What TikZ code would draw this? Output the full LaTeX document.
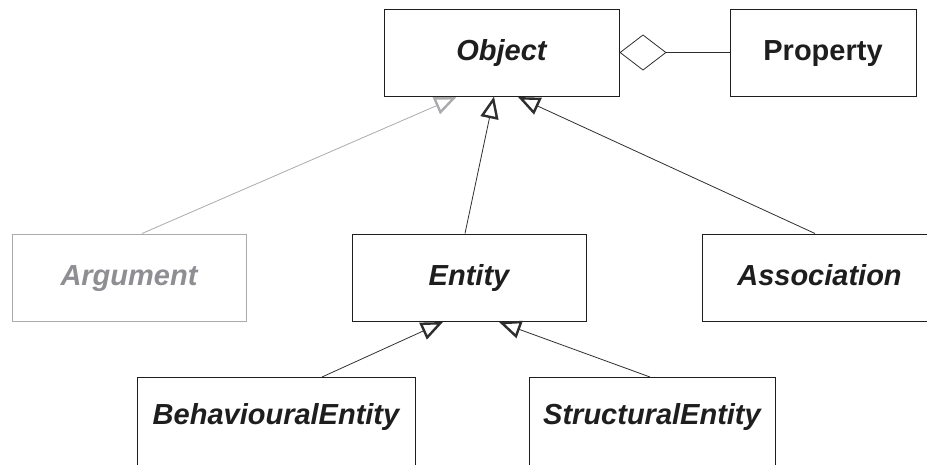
\documentclass[tikz,border=0pt]{standalone}
\usepackage{fontspec}
\setmainfont{Liberation Sans}
\usetikzlibrary{arrows.meta,calc}
\definecolor{ink}{HTML}{1E1E1E}
\definecolor{wire}{HTML}{2E2E2E}
\definecolor{faded}{HTML}{ABABAD}
\definecolor{fadedtext}{HTML}{8E8E93}
\begin{document}
\begin{tikzpicture}[x=1pt,y=-1pt,
  cls/.style={rectangle, draw=ink, line width=1pt, fill=white, inner sep=0pt,
    minimum height=87pt, text=ink, text height=21pt, text depth=6pt,
    font=\fontsize{29}{34}\selectfont\bfseries\itshape},
  plain/.style={font=\fontsize{29}{34}\selectfont\bfseries},
  ghost/.style={draw=faded, text=fadedtext},
  lower/.style={minimum height=92pt, text depth=19pt},
  gen/.style={draw=wire, line width=0.8pt,
    -{Triangle[fill=white, length=22pt, width=18pt, line width=2.4pt]}},
  genghost/.style={gen, draw=faded},
  agg/.style={draw=wire, line width=0.8pt,
    -{Diamond[fill=white, length=47pt, width=36pt, line width=0.8pt]}}
]
\useasboundingbox (0,0) rectangle (927,464);

% classes
\node[cls, minimum width=235pt] (obj) at (501.5,52.5) {Object};
\node[cls, plain, minimum width=186pt] (prop) at (823,52.5) {Property};
\node[cls, ghost, minimum width=234pt] (arg) at (129,277.5) {Argument};
\node[cls, minimum width=234pt] (ent) at (469,277.5) {Entity};
\node[cls, minimum width=235pt] (assoc) at (819.5,277.5) {Association};
\node[cls, lower, minimum width=278pt] (beh) at (276,423.5) {BehaviouralEntity};
\node[cls, lower, minimum width=246pt] (str) at (652,423.5) {StructuralEntity};

% aggregation
\draw[agg] (prop.west) -- (obj.east);

% generalisations
\draw[genghost] ($(arg.north)+(13,0)$) -- ($(obj.south)+(-45,0.5)$);
\draw[gen] ($(ent.north)+(-4,0)$) -- ($(obj.south)+(-7.5,0)$);
\draw[gen] ($(assoc.north)+(-4.5,0)$) -- ($(obj.south)+(16.5,0.5)$);
\draw[gen] ($(beh.north)+(46,0)$) -- ($(ent.south)+(-26,0.5)$);
\draw[gen] ($(str.north)+(-2,0)$) -- ($(ent.south)+(30,0.5)$);
\end{tikzpicture}
\end{document}
